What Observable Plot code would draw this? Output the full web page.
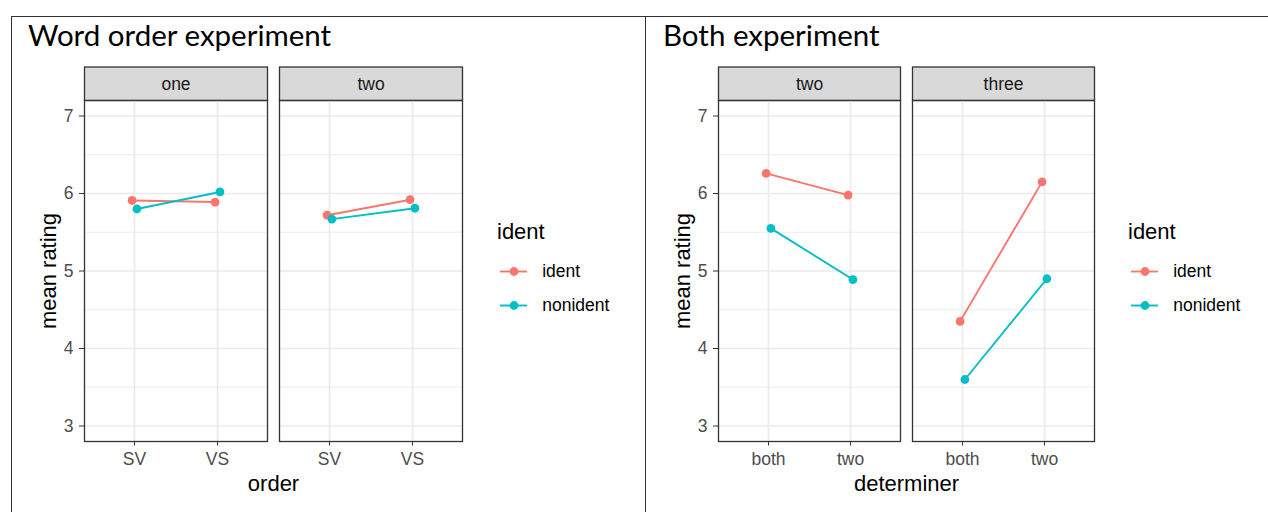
<!DOCTYPE html>
<html>
<head>
<meta charset="utf-8">
<script src="https://cdn.jsdelivr.net/npm/d3@7"></script>
<script src="https://cdn.jsdelivr.net/npm/@observablehq/plot@0.6"></script>
<style>
  body { margin: 0; background: #fff; }
  #root { position: relative; width: 1268px; height: 512px; overflow: hidden; background: #fff;
          font-family: "Liberation Sans", Arial, sans-serif; }
  .box { position: absolute; border-top: 1px solid #333; border-left: 1px solid #333; }
  .title { font-family: Lato, "Open Sans", sans-serif; font-size: 29.5px; line-height: 1; color: #000; white-space: nowrap; }
  .ltitle { font-size: 22px; line-height: 1; color: #000; white-space: nowrap; }
</style>
</head>
<body>
<div id="root"></div>
<script>
// ---------- data ----------
const identLevels = ["ident", "nonident"];
const identColors = ["#F8766D", "#00BFC4"];

const woTitle = "Word order experiment";
const woFacets = ["one", "two"];
const woLevels = ["SV", "VS"];
const woXLabel = "order";
// facet-major order: one/SV, one/VS, two/SV, two/VS
const woIdent = [5.91, 5.89, 5.72, 5.92];
const woNonident = [5.80, 6.02, 5.67, 5.81];

const bothTitle = "Both experiment";
const bothFacets = ["two", "three"];
const bothLevels = ["both", "two"];
const bothXLabel = "determiner";
// facet-major order: two/both, two/two, three/both, three/two
const bothIdent = [6.26, 5.98, 4.35, 6.15];
const bothNonident = [5.55, 4.89, 3.60, 4.90];

const yLabel = "mean rating";
const legendTitle = "ident";
const yTicks = [3, 4, 5, 6, 7];
const yMinor = [3.5, 4.5, 5.5, 6.5];
const yDomain = [2.8, 7.2];

// ---------- helpers ----------
const root = document.getElementById("root");
function place(el, left, top) {
  el.style.position = "absolute";
  el.style.left = left + "px";
  el.style.top = top + "px";
  root.appendChild(el);
  return el;
}
function div(cls, text) {
  const d = document.createElement("div");
  d.className = cls;
  if (text != null) d.textContent = text;
  return d;
}

function buildRows(facets, levels, identVals, nonVals) {
  const rows = [];
  facets.forEach((f, fi) => {
    levels.forEach((l, li) => {
      rows.push({facet: f, level: l, ident: identLevels[0], rating: identVals[fi * levels.length + li]});
      rows.push({facet: f, level: l, ident: identLevels[1], rating: nonVals[fi * levels.length + li]});
    });
  });
  return rows;
}

function experimentPlot({facets, levels, identVals, nonVals, xLabel, width, marginLeft, marginRight, pad}) {
  const rows = buildRows(facets, levels, identVals, nonVals);
  const seriesMarks = identLevels.flatMap((lev, i) => {
    const data = rows.filter(r => r.ident === lev);
    const dx = i === 0 ? -2.4 : 2.4;
    return [
      Plot.line(data, {fx: "facet", x: "level", y: "rating", stroke: "ident", strokeWidth: 1.9, dx}),
      Plot.dot(data, {fx: "facet", x: "level", y: "rating", fill: "ident", r: 4.4, dx})
    ];
  });
  return Plot.plot({
    width,
    height: 512,
    marginTop: 100,
    marginBottom: 71,
    marginLeft,
    marginRight,
    style: {fontFamily: "'Liberation Sans', Arial, sans-serif", fontSize: "17.5px", color: "#4D4D4D", background: "transparent", overflow: "visible"},
    fx: {domain: facets, paddingInner: pad, paddingOuter: 0, axis: null},
    x: {type: "point", domain: levels, padding: 0.6},
    y: {domain: yDomain},
    color: {domain: identLevels, range: identColors},
    marks: [
      // strip background
      Plot.frame({fill: "#D9D9D9", stroke: "#333", strokeWidth: 1.3, insetTop: -33.5, insetBottom: 341}),
      Plot.gridY(yMinor, {stroke: "#EBEBEB", strokeOpacity: 1, strokeWidth: 0.9}),
      Plot.gridY(yTicks, {stroke: "#EBEBEB", strokeOpacity: 1, strokeWidth: 1.7}),
      Plot.gridX({stroke: "#EBEBEB", strokeOpacity: 1, strokeWidth: 1.7}),
      Plot.frame({stroke: "#333", strokeWidth: 1.3}),
      ...seriesMarks,
      Plot.axisY(yTicks, {tickSize: 5, tickPadding: 6, stroke: "#333", fill: "#4D4D4D", label: null, fontSize: 17.5, tickFormat: d => String(d)}),
      Plot.axisX({tickSize: 4.5, tickPadding: 7, stroke: "#333", fill: "#4D4D4D", label: null, fontSize: 17.5}),
      Plot.text(facets, {fx: d => d, text: d => d, frameAnchor: "top", dy: -16.5, lineAnchor: "middle", fill: "#1A1A1A", fontSize: 17.5}),
      Plot.text([xLabel], {text: d => d, frameAnchor: "bottom", dy: 42, lineAnchor: "middle", fill: "#000", fontSize: 22, facet: "super"}),
      Plot.text([yLabel], {text: d => d, frameAnchor: "left", dx: -36, rotate: -90, lineAnchor: "middle", textAnchor: "middle", fill: "#000", fontSize: 22, facet: "super"})
    ]
  });
}

function legendPlot() {
  return Plot.plot({
    width: 137,
    height: 68,
    marginTop: 0, marginBottom: 0, marginLeft: 0, marginRight: 110,
    style: {fontFamily: "'Liberation Sans', Arial, sans-serif", fontSize: "17.5px", color: "#000", background: "transparent", overflow: "visible"},
    y: {type: "point", domain: identLevels, padding: 0.5, axis: null},
    color: {domain: identLevels, range: identColors},
    marks: [
      Plot.ruleY(identLevels, {y: d => d, stroke: d => d, strokeWidth: 1.9}),
      Plot.dot(identLevels, {y: d => d, fill: d => d, r: 4.4, frameAnchor: "middle"}),
      Plot.text(identLevels, {y: d => d, text: d => d, frameAnchor: "right", dx: 14.7, textAnchor: "start", fill: "#000", fontSize: 17.5})
    ]
  });
}

// ---------- outer boxes ----------
const b1 = div("box"); b1.style.width = "634px"; b1.style.height = "600px"; place(b1, 11, 16);
const b2 = div("box"); b2.style.width = "700px"; b2.style.height = "600px"; place(b2, 645, 16);

// ---------- left experiment ----------
place(experimentPlot({facets: woFacets, levels: woLevels, identVals: woIdent, nonVals: woNonident,
  xLabel: woXLabel, width: 640, marginLeft: 84, marginRight: 177, pad: 12 / 195.5}), 0, 0);
place(div("title", woTitle), 28, 20);
place(div("ltitle", legendTitle), 497, 221);
place(legendPlot(), 500, 254);

// ---------- right experiment ----------
place(experimentPlot({facets: bothFacets, levels: bothLevels, identVals: bothIdent, nonVals: bothNonident,
  xLabel: bothXLabel, width: 628, marginLeft: 78, marginRight: 173, pad: 12 / 194.5}), 640, 0);
place(div("title", bothTitle), 663, 20);
place(div("ltitle", legendTitle), 1128, 221);
place(legendPlot(), 1131, 254);
</script>
</body>
</html>
